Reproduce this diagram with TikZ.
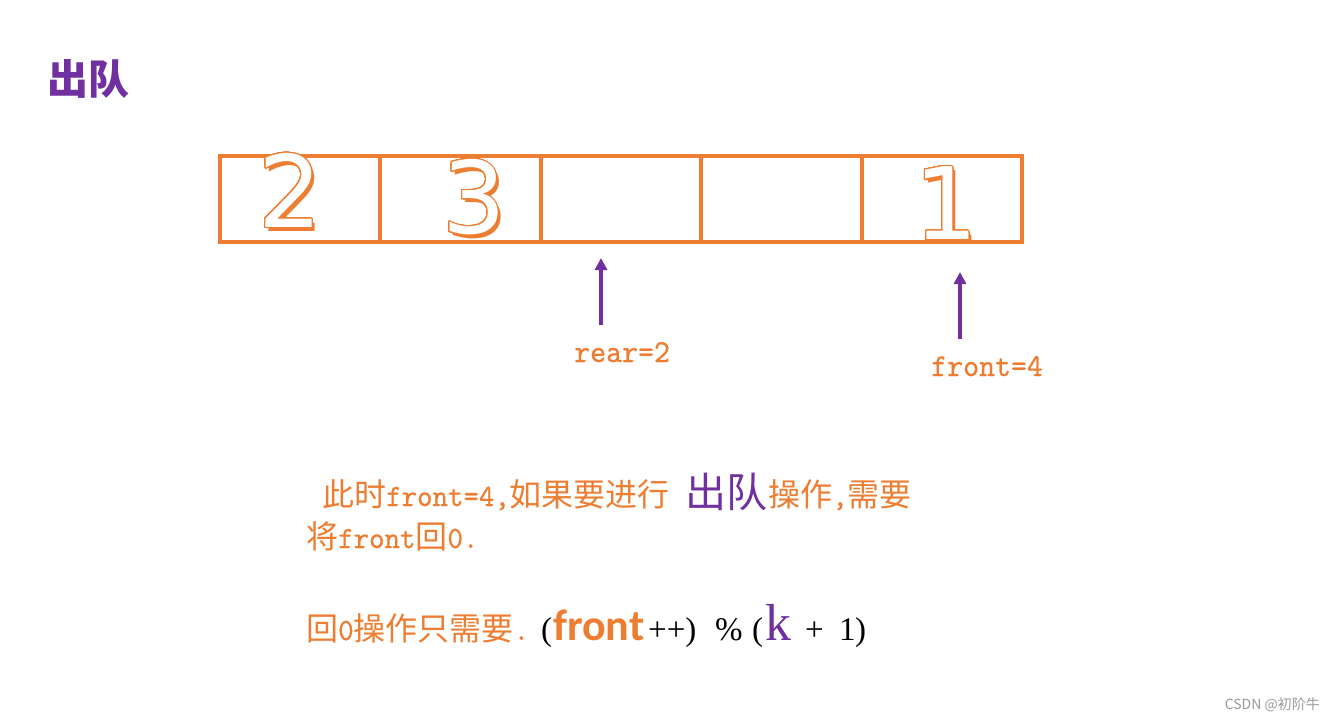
\documentclass[tikz,border=0pt]{standalone}
\usepackage{fontspec}
\usepackage[copies]{contour}
\usetikzlibrary{arrows.meta}
\setmainfont{Liberation Serif}
\newfontfamily\cjk{Noto Sans CJK SC}
\newfontfamily\lat{lmmono10-regular.otf}[FakeStretch=0.95,FakeBold=0.6]
\newfontfamily\digitfont{DejaVu Sans}
\newfontfamily\carl{Carlito}
\definecolor{qorange}{HTML}{ED7D31}
\definecolor{qpurple}{HTML}{7030A0}
\definecolor{qgray}{HTML}{9A9A9A}
\newcommand{\fsz}[1]{\fontsize{#1}{#1}\selectfont}
\newcommand{\zh}[1]{{\cjk\fsz{32}#1}}
\newcommand{\en}[1]{{\lat\fsz{31}#1}}
\contourlength{1.1pt}
\contournumber{32}
\tikzset{
  cell/.style={draw=qorange, line width=4pt, minimum width=160.4pt, minimum height=86pt, inner sep=0pt, outer sep=0pt},
  digit/.style={font=\digitfont\fsz{100}, inner sep=0pt},
  parr/.style={draw=qpurple, line width=3.2pt, -{Triangle[width=12pt,length=12pt]}},
  lbl/.style={font=\lat\fsz{32}, text=qorange, inner sep=0pt, anchor=base west},
  body/.style={font=\fsz{31}, text=qorange, inner sep=0pt, anchor=base west},
  blk/.style={font=\fsz{33}, text=black, inner sep=0pt, anchor=base west}
}
\begin{document}
\begin{tikzpicture}[x=1pt,y=-1pt]
\useasboundingbox (0,0) rectangle (1335,721);
\fill[white] (0,0) rectangle (1335,721);

% title
\node[font=\cjk\bfseries\fsz{41}, text=qpurple, inner sep=0pt, anchor=base west] (title) at (47,94) {出队};

% queue cells
\node[cell] (c0) at (300.2,199) {};
\node[cell] (c1) at (460.6,199) {};
\node[cell] (c2) at (621.0,199) {};
\node[cell] (c3) at (781.4,199) {};
\node[cell] (c4) at (941.8,199) {};

% digits with shadow and outline
\node[digit, text=qorange] (d2s) at (293.5,194.5) {2};
\node[digit, text=white] (d2) at (290,191) {\contour{qorange}{2}};
\node[digit, text=qorange] (d3s) at (477.5,201.5) {3};
\node[digit, text=white] (d3) at (474,198) {\contour{qorange}{3}};
\node[digit, text=qorange] (d1s) at (949.5,207.5) {1};
\node[digit, text=white] (d1) at (946,204) {\contour{qorange}{1}};

% pointers
\coordinate (ra0) at (601,325);
\coordinate (ra1) at (601,258);
\draw[parr] (ra0) -- (ra1);
\coordinate (fa0) at (960,339);
\coordinate (fa1) at (960,272);
\draw[parr] (fa0) -- (fa1);
\node[lbl] (rear) at (574,362) {rear=2};
\node[lbl] (front) at (931,376) {front=4};

% explanation line 1
\node[body] (l1a) at (322,506) {\zh{此时}\en{front=4,}\zh{如果要进行}};
\node[body, font=\cjk\fsz{41}, text=qpurple] (l1b) at (685,507) {出队};
\node[body] (l1c) at (768,506) {\zh{操作}\en{,}\zh{需要}};
% line 2
\node[body] (l2) at (306,548) {\zh{将}\en{front}\zh{回}\en{0.}};
% line 3
\node[body] (l3) at (306,640) {\zh{回}\en{0}\zh{操作只需要}\en{.}};
\node[blk] (p1) at (541,640) {(};
\node[body, font=\carl\bfseries\fsz{44}] (fr) at (553,640) {front};
\node[blk] (pp) at (648,640) {++)};
\node[blk] (pc) at (715,640) {\%};
\node[blk] (p2) at (752,640) {(};
\node[body, font=\fsz{52}, text=qpurple] (kk) at (765,640) {k};
\node[blk] (pl) at (805,640) {+};
\node[blk] (one) at (839,640) {1};
\node[blk] (p3) at (855,640) {)};

% watermark
\node[font=\cjk\fsz{14}, text=qgray, inner sep=0pt, anchor=east] (wm) at (1320,705) {CSDN @初阶牛};
\end{tikzpicture}
\end{document}
